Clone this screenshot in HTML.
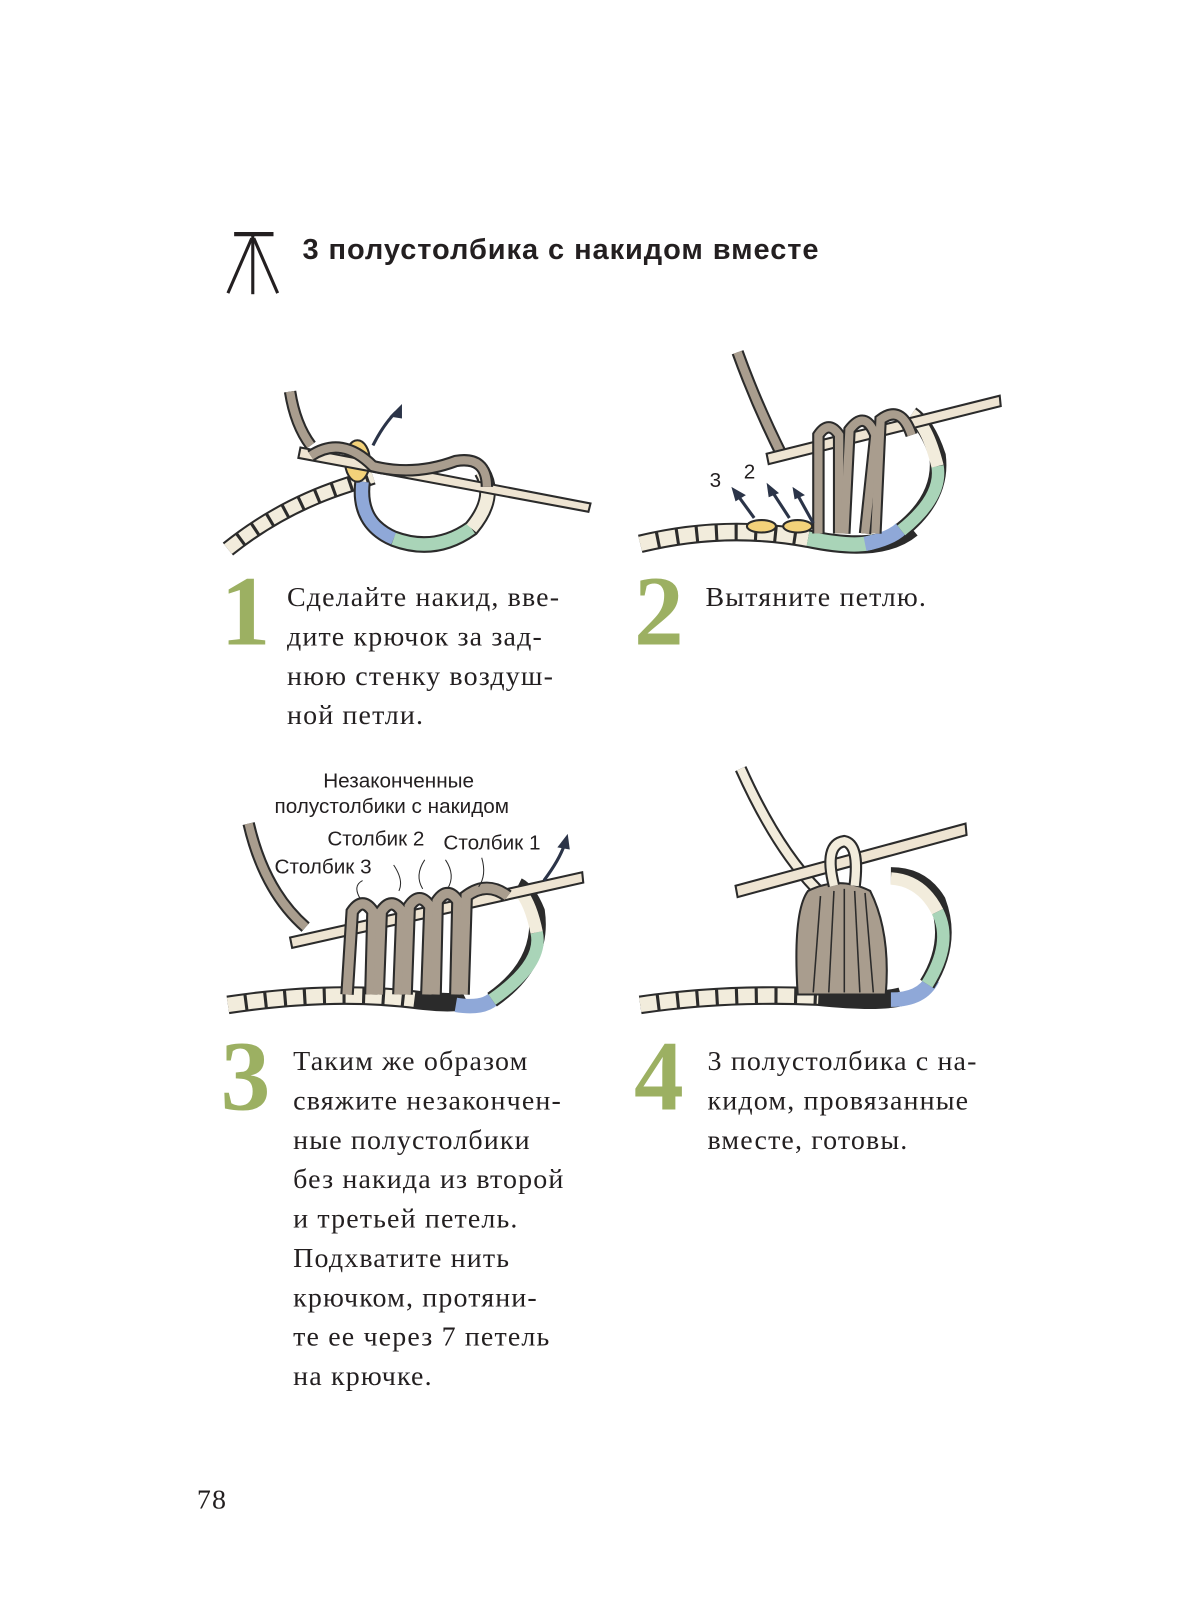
<!DOCTYPE html>
<html><head><meta charset="utf-8"><style>
html,body{margin:0;padding:0;background:#fff;}
svg{display:block}
.t{font-family:"Liberation Serif",serif;font-size:27px;letter-spacing:1.1px;fill:#231f20}
.n{font-family:"Liberation Serif",serif;font-weight:bold;font-size:96px;fill:#9cb062}
.s{font-family:"Liberation Sans",sans-serif;font-size:20px;fill:#231f20}
.y{fill:#a99d8e;stroke:#2b2b2b;stroke-width:2}
.h{fill:#eee4d2;stroke:#2b2b2b;stroke-width:2}
.c{fill:#f2ecdc;stroke:#2b2b2b;stroke-width:2}
</style></head><body>
<svg width="1181" height="1614" viewBox="0 0 1140 1558" xmlns="http://www.w3.org/2000/svg">
<g stroke="#231f20" stroke-width="3" fill="none">
<line x1="226" y1="226" x2="264" y2="226" stroke-width="4"/>
<line x1="244" y1="227" x2="244" y2="284"/>
<line x1="243" y1="230" x2="220" y2="283"/>
<line x1="245" y1="230" x2="268" y2="283"/>
</g>
<text x="292" y="250" font-family="Liberation Sans,sans-serif" font-weight="bold" font-size="28" letter-spacing="0.9" fill="#231f20">3 полустолбика с накидом вместе</text>

<g>
<path d="M280 378 Q285 410 300 430" stroke="#2b2b2b" stroke-width="12" fill="none"/>
<path d="M280 378 Q285 410 300 430" stroke="#a99d8e" stroke-width="8" fill="none"/>
<path d="M220 530 Q270 490 330 470 Q360 460 360 460" stroke="#2b2b2b" stroke-width="16" fill="none"/>
<path d="M220 530 Q270 490 330 470 Q360 460 360 460" stroke="#f2ecdc" stroke-width="12" fill="none" stroke-dasharray="14 3"/>
<path d="M350 465 Q345 505 380 520 Q420 535 455 510 Q480 480 465 455" stroke="#2b2b2b" stroke-width="16" fill="none"/>
<path d="M350 465 Q345 505 380 520" stroke="#8fa8d8" stroke-width="12" fill="none"/>
<path d="M380 520 Q420 535 455 510" stroke="#a9d4b8" stroke-width="12" fill="none"/>
<path d="M455 510 Q480 480 465 455" stroke="#f2ecdc" stroke-width="12" fill="none"/>
<ellipse cx="345" cy="445" rx="12" ry="20" fill="#f3d27a" stroke="#2b2b2b" stroke-width="2"/>
<path d="M290 432 L570 486 L568 494 L288 442 Z" class="h"/>
<path d="M300 440 Q330 420 360 450 Q400 460 440 445 Q470 440 470 470" stroke="#2b2b2b" stroke-width="12" fill="none"/>
<path d="M300 440 Q330 420 360 450 Q400 460 440 445 Q470 440 470 470" stroke="#a99d8e" stroke-width="8" fill="none"/>
<path d="M360 430 Q370 410 382 398" stroke="#2b3448" stroke-width="3" fill="none"/>
<polygon points="388,390 376,402 388,404" fill="#2b3448"/>
</g>

<g>
<path d="M712 340 Q730 390 755 440" stroke="#2b2b2b" stroke-width="12" fill="none"/>
<path d="M712 340 Q730 390 755 440" stroke="#a99d8e" stroke-width="8" fill="none"/>
<path d="M618 525 Q700 505 780 520 Q850 535 880 510" stroke="#2b2b2b" stroke-width="18" fill="none"/>
<path d="M618 525 Q700 505 780 520" stroke="#f2ecdc" stroke-width="14" fill="none" stroke-dasharray="16 3"/>
<path d="M780 520 Q830 530 845 522" stroke="#a9d4b8" stroke-width="14" fill="none"/>
<path d="M835 525 Q860 520 870 510" stroke="#8fa8d8" stroke-width="14" fill="none"/>
<path d="M870 512 Q910 480 905 440 Q895 410 880 400" stroke="#2b2b2b" stroke-width="16" fill="none"/>
<path d="M870 512 Q910 480 905 450" stroke="#a9d4b8" stroke-width="12" fill="none"/>
<path d="M905 450 Q895 410 880 400" stroke="#f2ecdc" stroke-width="12" fill="none"/>
<ellipse cx="735" cy="508" rx="14" ry="6" fill="#f3d27a" stroke="#2b2b2b" stroke-width="2"/>
<ellipse cx="770" cy="508" rx="14" ry="6" fill="#f3d27a" stroke="#2b2b2b" stroke-width="2"/>
<path d="M740 438 L965 382 L966 392 L742 448 Z" class="h"/>
<g stroke="#2b2b2b" stroke-width="12" fill="none"><path d="M790 515 L790 420 Q800 405 810 420 L810 515"/><path d="M815 515 L820 415 Q835 395 845 420 L835 515"/><path d="M845 515 L850 405 Q870 390 880 420"/></g>
<g stroke="#a99d8e" stroke-width="8" fill="none"><path d="M790 515 L790 420 Q800 405 810 420 L810 515"/><path d="M815 515 L820 415 Q835 395 845 420 L835 515"/><path d="M845 515 L850 405 Q870 390 880 420"/></g>
<g stroke="#2b3448" stroke-width="3"><line x1="728" y1="500" x2="712" y2="478"/><line x1="762" y1="500" x2="745" y2="474"/><line x1="785" y1="505" x2="770" y2="478"/></g>
<g fill="#2b3448"><polygon points="706,470 720,478 710,484"/><polygon points="740,466 752,476 742,480"/><polygon points="765,470 777,478 767,482"/></g>
<text x="685" y="470" class="s" font-size="16">3</text><text x="718" y="462" class="s" font-size="16">2</text>
</g>

<g>
<path d="M240 795 Q255 860 295 895" stroke="#2b2b2b" stroke-width="12" fill="none"/>
<path d="M240 795 Q255 860 295 895" stroke="#a99d8e" stroke-width="8" fill="none"/>
<path d="M220 970 Q320 955 400 965 Q440 970 450 965" stroke="#2b2b2b" stroke-width="18" fill="none"/>
<path d="M220 970 Q320 955 400 965" stroke="#f2ecdc" stroke-width="14" fill="none" stroke-dasharray="16 3"/>
<path d="M440 970 Q470 975 480 960" stroke="#8fa8d8" stroke-width="14" fill="none"/>
<path d="M475 965 Q525 930 518 880 Q510 860 500 855" stroke="#2b2b2b" stroke-width="16" fill="none"/>
<path d="M475 965 Q525 930 518 900" stroke="#a9d4b8" stroke-width="12" fill="none"/>
<path d="M518 900 Q512 870 500 858" stroke="#f2ecdc" stroke-width="12" fill="none"/>
<path d="M280 905 L562 842 L563 852 L282 915 Z" class="h"/>
<g stroke="#2b2b2b" stroke-width="13" fill="none">
<path d="M335 960 L340 880 Q350 865 360 880 L358 960"/><path d="M365 960 L368 880 Q378 865 388 880 L385 960"/><path d="M392 960 L395 875 Q405 860 415 875 L412 960"/><path d="M420 960 L422 870 Q432 855 442 870 L440 960"/><path d="M447 960 L450 865 Q470 850 490 865"/></g>
<g stroke="#a99d8e" stroke-width="9" fill="none">
<path d="M335 960 L340 880 Q350 865 360 880 L358 960"/><path d="M365 960 L368 880 Q378 865 388 880 L385 960"/><path d="M392 960 L395 875 Q405 860 415 875 L412 960"/><path d="M420 960 L422 870 Q432 855 442 870 L440 960"/><path d="M447 960 L450 865 Q470 850 490 865"/></g>
<path d="M525 850 Q540 830 545 815" stroke="#2b3448" stroke-width="3" fill="none"/><polygon points="548,805 538,818 550,820" fill="#2b3448"/>
<text x="312" y="760" class="s">Незаконченные</text>
<text x="265" y="785" class="s">полустолбики с накидом</text>
<text x="316" y="816" class="s">Столбик 2</text>
<text x="428" y="820" class="s">Столбик 1</text>
<text x="265" y="843" class="s">Столбик 3</text>
<g stroke="#2b2b2b" stroke-width="1" fill="none"><path d="M350 850 Q340 855 348 868"/><path d="M380 835 Q390 850 385 860"/><path d="M410 830 Q400 845 408 858"/><path d="M430 830 Q440 845 432 858"/><path d="M465 828 Q470 845 462 856"/></g>
</g>

<g>
<path d="M715 742 Q750 820 790 860" stroke="#2b2b2b" stroke-width="12" fill="none"/>
<path d="M715 742 Q750 820 790 860" stroke="#f2ecdc" stroke-width="8" fill="none"/>
<path d="M618 970 Q700 958 790 962 Q850 968 870 962" stroke="#2b2b2b" stroke-width="18" fill="none"/>
<path d="M618 970 Q700 958 790 962" stroke="#f2ecdc" stroke-width="14" fill="none" stroke-dasharray="16 3"/>
<path d="M860 965 Q890 965 900 945" stroke="#8fa8d8" stroke-width="14" fill="none"/>
<path d="M895 950 Q920 910 905 870 Q890 845 860 845" stroke="#2b2b2b" stroke-width="16" fill="none"/>
<path d="M895 950 Q920 910 905 880" stroke="#a9d4b8" stroke-width="12" fill="none"/>
<path d="M905 880 Q890 850 860 848" stroke="#f2ecdc" stroke-width="12" fill="none"/>
<path d="M770 960 Q765 880 780 860 Q810 845 840 860 Q860 900 855 960 Z" class="y"/>
<g stroke="#2b2b2b" stroke-width="1.5" fill="none"><path d="M785 958 L792 865"/><path d="M800 958 L805 860"/><path d="M815 958 L815 858"/><path d="M830 958 L825 860"/><path d="M843 958 L835 862"/></g>
<path d="M710 855 L932 795 L933 806 L712 866 Z" class="h"/>
<path d="M805 855 Q795 815 815 812 Q830 815 825 855" stroke="#2b2b2b" stroke-width="12" fill="none"/>
<path d="M805 855 Q795 815 815 812 Q830 815 825 855" stroke="#f2ecdc" stroke-width="8" fill="none"/>
</g>

<text x="213" y="622" class="n">1</text>
<text x="277" y="585" class="t">Сделайте накид, вве-</text>
<text x="277" y="623" class="t">дите крючок за зад-</text>
<text x="277" y="661" class="t">нюю стенку воздуш-</text>
<text x="277" y="699" class="t">ной петли.</text>

<text x="612" y="622" class="n">2</text>
<text x="681" y="585" class="t">Вытяните петлю.</text>

<text x="213" y="1071" class="n">3</text>
<text x="283" y="1033" class="t">Таким же образом</text>
<text x="283" y="1071" class="t">свяжите незакончен-</text>
<text x="283" y="1109" class="t">ные полустолбики</text>
<text x="283" y="1147" class="t">без накида из второй</text>
<text x="283" y="1185" class="t">и третьей петель.</text>
<text x="283" y="1223" class="t">Подхватите нить</text>
<text x="283" y="1261" class="t">крючком, протяни-</text>
<text x="283" y="1299" class="t">те ее через 7 петель</text>
<text x="283" y="1337" class="t">на крючке.</text>

<text x="612" y="1071" class="n">4</text>
<text x="683" y="1033" class="t">3 полустолбика с на-</text>
<text x="683" y="1071" class="t">кидом, провязанные</text>
<text x="683" y="1109" class="t">вместе, готовы.</text>

<text x="190" y="1456" class="t" font-size="24" letter-spacing="0">78</text>
</svg>
</body></html>
